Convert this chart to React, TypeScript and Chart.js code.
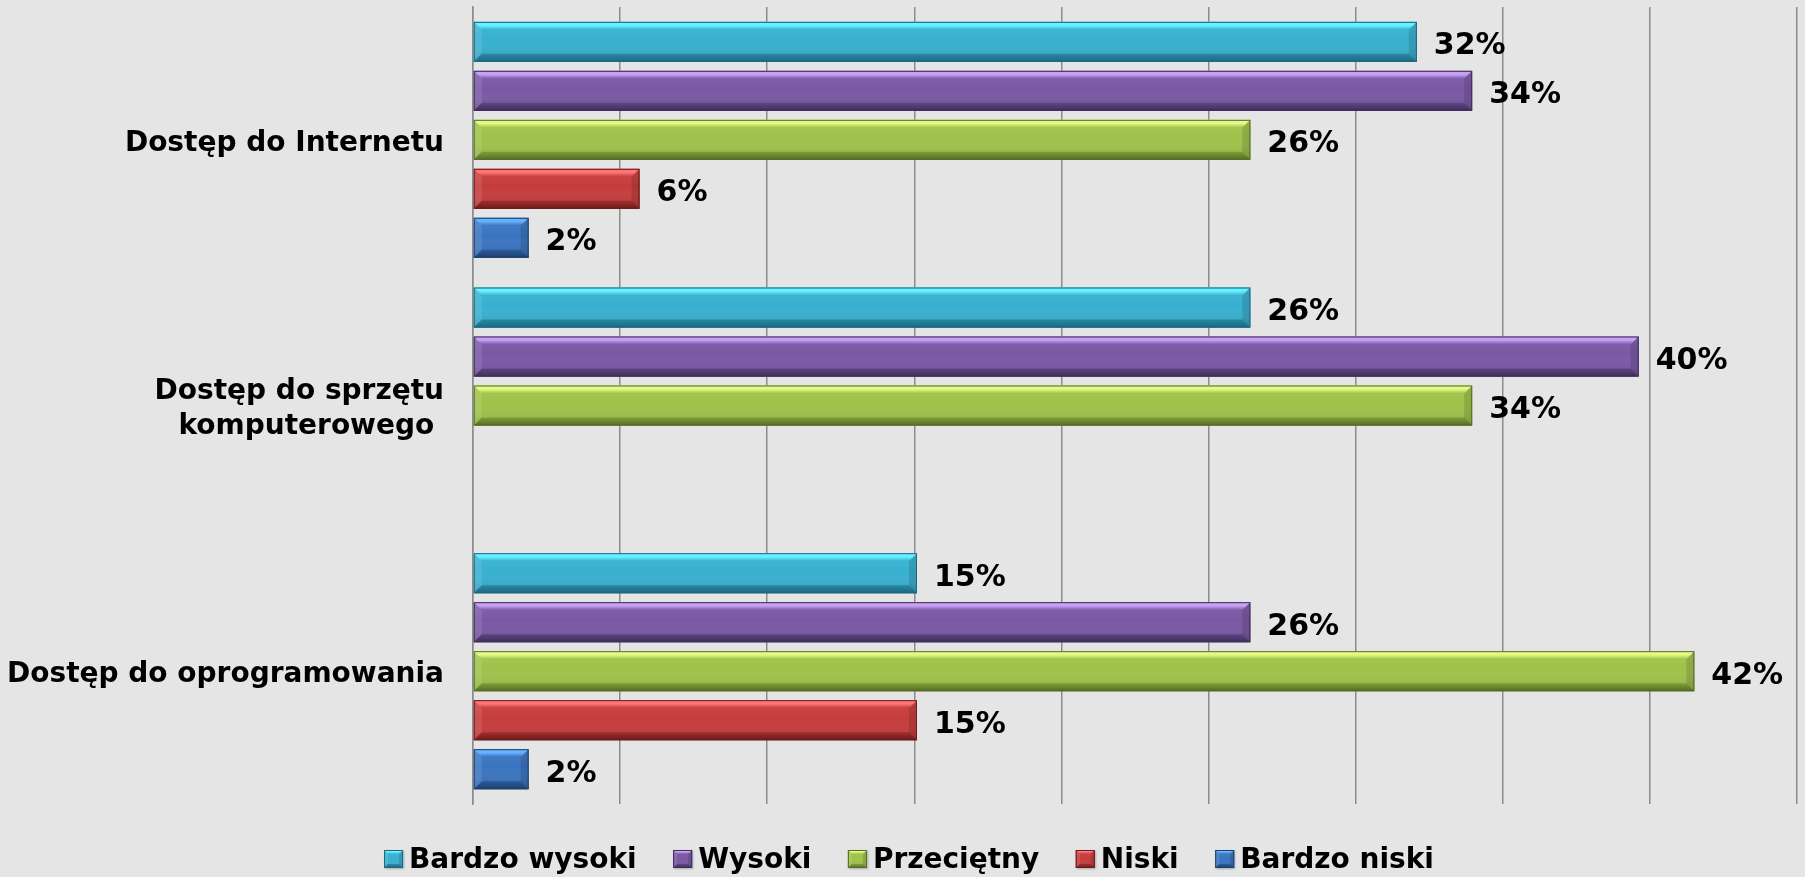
import { useEffect, useRef } from "react";
import { Chart, registerables } from "chart.js";

Chart.register(...registerables);

const categories: (string | string[])[] = [
  "Dostęp do Internetu",
  ["Dostęp do sprzętu", "komputerowego "],
  "Dostęp do oprogramowania",
];
const seriesNames = ["Bardzo wysoki", "Wysoki", "Przeciętny", "Niski", "Bardzo niski"];
const bardzoWysoki = [32.08, 26.42, 15.09];
const wysoki = [33.96, 39.62, 26.42];
const przecietny = [26.42, 33.96, 41.51];
const niski = [5.66, null, 15.09];
const bardzoNiski = [1.89, null, 1.89];
const xMin = 0;
const xMax = 45;
const xStep = 5;

const seriesValues = [bardzoWysoki, wysoki, przecietny, niski, bardzoNiski];

const palette = [
  { top: "#66f2ff", main: "#38b0d0", bottom: "#2a88a4", border: "#1c6880" },
  { top: "#c8a2f2", main: "#7a58a4", bottom: "#604484", border: "#3f2e5a" },
  { top: "#e6fa86", main: "#9fc24a", bottom: "#7e9e38", border: "#566c26" },
  { top: "#ff7676", main: "#c63c3c", bottom: "#a42e2e", border: "#6a1b1b" },
  { top: "#66b2ff", main: "#3a74c0", bottom: "#2b5a9a", border: "#1e406e" },
];

const FONT = "'DejaVu Sans', Verdana, sans-serif";
const BG = "#e5e5e5";

function poly(ctx: CanvasRenderingContext2D, pts: number[][], fill: string | CanvasGradient) {
  ctx.beginPath();
  ctx.moveTo(pts[0][0], pts[0][1]);
  for (let i = 1; i < pts.length; i++) ctx.lineTo(pts[i][0], pts[i][1]);
  ctx.closePath();
  ctx.fillStyle = fill;
  ctx.fill();
}

function bevel(ctx: CanvasRenderingContext2D, L: number, T: number, R: number, B: number, c: any, bSize: number) {
  const b = Math.min(bSize, (R - L) / 2, (B - T) / 2);
  const g = ctx.createLinearGradient(0, T, 0, B);
  g.addColorStop(0, "rgba(255,255,255,0.08)");
  g.addColorStop(0.45, "rgba(255,255,255,0)");
  g.addColorStop(1, "rgba(0,0,0,0.14)");
  ctx.fillStyle = c.main;
  ctx.fillRect(L, T, R - L, B - T);
  ctx.fillStyle = g;
  ctx.fillRect(L, T, R - L, B - T);
  const gt = ctx.createLinearGradient(0, T, 0, T + b);
  gt.addColorStop(0, c.top);
  gt.addColorStop(0.45, c.top);
  gt.addColorStop(1, c.main);
  poly(ctx, [[L, T], [R, T], [R - b, T + b], [L + b, T + b]], gt);
  const gb = ctx.createLinearGradient(0, B - b, 0, B);
  gb.addColorStop(0, c.bottom);
  gb.addColorStop(1, c.border);
  poly(ctx, [[L, B], [R, B], [R - b, B - b], [L + b, B - b]], gb);
  poly(ctx, [[R, T], [R, B], [R - b, B - b], [R - b, T + b]], "rgba(0,0,0,0.12)");
  poly(ctx, [[L, T], [L, B], [L + b, B - b], [L + b, T + b]], "rgba(255,255,255,0.10)");
  ctx.strokeStyle = c.border;
  ctx.lineWidth = 1;
  ctx.strokeRect(L + 0.5, T + 0.5, R - L - 1, B - T - 1);
}

const decorPlugin = {
  id: "decor",
  beforeDraw(chart: any) {
    const ctx = chart.ctx;
    ctx.save();
    ctx.fillStyle = BG;
    ctx.fillRect(0, 0, chart.width, chart.height);
    ctx.restore();
  },
  beforeDatasetsDraw(chart: any) {
    const ctx = chart.ctx;
    ctx.save();
    ctx.shadowColor = "rgba(0,0,0,0.28)";
    ctx.shadowBlur = 5;
    ctx.shadowOffsetX = 2;
    ctx.shadowOffsetY = 3;
  },
  afterDatasetsDraw(chart: any) {
    const ctx = chart.ctx;
    ctx.restore();
    ctx.save();
    chart.data.datasets.forEach((ds: any, di: number) => {
      const meta = chart.getDatasetMeta(di);
      meta.data.forEach((el: any, i: number) => {
        const v = ds.data[i];
        if (v === null || v === undefined) return;
        const L = Math.min(el.base, el.x);
        const R = Math.max(el.base, el.x);
        const T = el.y - el.height / 2;
        const B = el.y + el.height / 2;
        bevel(ctx, L, T, R, B, palette[di], 8);
      });
    });
    ctx.fillStyle = "#000";
    ctx.font = `bold 30px ${FONT}`;
    ctx.textAlign = "left";
    ctx.textBaseline = "alphabetic";
    chart.data.datasets.forEach((ds: any, di: number) => {
      const meta = chart.getDatasetMeta(di);
      meta.data.forEach((el: any, i: number) => {
        const v = ds.data[i];
        if (v === null || v === undefined) return;
        ctx.fillText(`${Math.round(v)}%`, el.x + 17, el.y + 12.5);
      });
    });
    ctx.restore();
  },
  afterDraw(chart: any) {
    const ctx = chart.ctx;
    ctx.save();
    ctx.font = `bold 28px ${FONT}`;
    const boxW = 19, boxH = 18, gap = 6, spacing = 36.5;
    const items = chart.data.datasets.map((ds: any, di: number) => ({
      text: ds.label,
      c: palette[di],
      w: boxW + gap + ctx.measureText(ds.label).width,
    }));
    const total = items.reduce((s: number, it: any) => s + it.w, 0) + spacing * (items.length - 1);
    let x = 909 - total / 2;
    const boxTop = 850;
    const baseline = 868;
    ctx.textAlign = "left";
    ctx.textBaseline = "alphabetic";
    items.forEach((it: any) => {
      ctx.save();
      ctx.shadowColor = "rgba(0,0,0,0.25)";
      ctx.shadowBlur = 2;
      ctx.shadowOffsetX = 1;
      ctx.shadowOffsetY = 1;
      ctx.fillStyle = it.c.main;
      ctx.fillRect(x, boxTop, boxW, boxH);
      ctx.restore();
      bevel(ctx, x, boxTop, x + boxW, boxTop + boxH, it.c, 4);
      ctx.fillStyle = "#000";
      ctx.fillText(it.text, x + boxW + gap, baseline);
      x += it.w + spacing;
    });
    ctx.restore();
  },
};

export default function App() {
  const ref = useRef<HTMLCanvasElement | null>(null);
  useEffect(() => {
    document.body.style.margin = "0";
    document.body.style.background = BG;
    if (!ref.current) return;
    const chart = new Chart(ref.current, {
      type: "bar",
      data: {
        labels: categories as any,
        datasets: seriesNames.map((name, i) => ({
          label: name,
          data: seriesValues[i] as any,
          backgroundColor: palette[i].main,
          borderColor: palette[i].border,
          borderWidth: 1,
          borderSkipped: false,
          categoryPercentage: 0.922,
          barPercentage: 0.816,
        })),
      },
      options: {
        indexAxis: "y",
        responsive: false,
        animation: false,
        devicePixelRatio: 1,
        layout: { padding: { top: 7, right: 8, bottom: 73, left: 0 } },
        plugins: {
          legend: { display: false },
          tooltip: { enabled: false },
        },
        scales: {
          x: {
            min: xMin,
            max: xMax,
            ticks: { display: false, stepSize: xStep },
            grid: { color: "#8c8c8c", lineWidth: 1.5, drawTicks: false },
            border: { display: false },
            afterFit: (scale: any) => {
              scale.paddingLeft = 0;
              scale.paddingRight = 0;
            },
          },
          y: {
            grid: { display: false, drawTicks: false },
            border: { display: true, color: "#8c8c8c", width: 1.5 },
            ticks: {
              color: "#000",
              padding: 29,
              labelOffset: 3.5,
              font: { family: FONT, size: 28, weight: "bold", lineHeight: 1.25 },
            },
            afterFit: (scale: any) => {
              scale.width = 473;
              scale.paddingTop = 0;
              scale.paddingBottom = 0;
            },
          },
        },
      },
      plugins: [decorPlugin],
    });
    return () => chart.destroy();
  }, []);
  return <canvas ref={ref} width={1805} height={877} style={{ display: "block", width: 1805, height: 877 }} />;
}
